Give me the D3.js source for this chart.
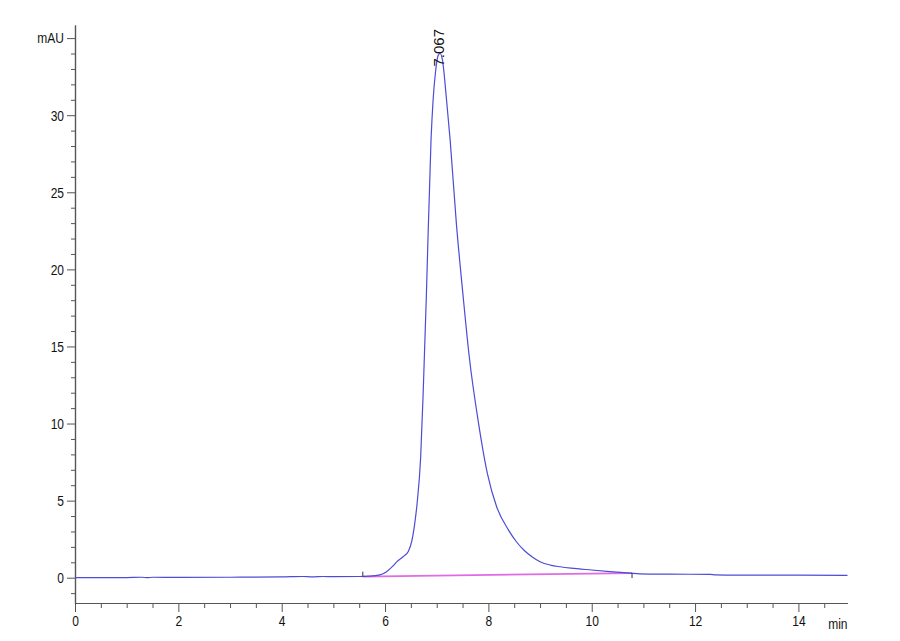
<!DOCTYPE html>
<html>
<head>
<meta charset="utf-8">
<script src="https://cdn.jsdelivr.net/npm/d3@7"></script>
<style>
  html, body { margin: 0; padding: 0; background: #fff; }
  svg { display: block; }
  .tick text, .lbl { font-family: "Liberation Sans Narrow", "Arial Narrow", "Liberation Sans", Arial, sans-serif; font-size: 15px; fill: #111; }
  .peak { font-family: "Liberation Sans", Arial, sans-serif; font-size: 15px; fill: #111; }
</style>
</head>
<body>
<svg id="chart" width="900" height="641"></svg>
<script>
// Retention time (min) and detector signal (mAU)
const time = [0, 0.5, 1, 1.3, 1.4, 1.5, 2, 3, 4, 4.4, 4.6, 4.8, 5, 5.5, 5.7, 5.9, 6.03, 6.15, 6.23, 6.35, 6.45, 6.52, 6.57, 6.62, 6.69, 6.74, 6.80, 6.89, 6.93, 6.98, 7.03, 7.067, 7.11, 7.19, 7.26, 7.38, 7.51, 7.63, 7.81, 7.98, 8.16, 8.39, 8.55, 8.7, 8.85, 9.0, 9.2, 9.39, 9.6, 10.0, 10.35, 10.74, 10.93, 11.5, 12.29, 12.4, 13, 14, 14.95];
const signal = [0.00, 0.00, 0.01, 0.03, 0.00, 0.03, 0.02, 0.03, 0.05, 0.08, 0.05, 0.08, 0.07, 0.08, 0.10, 0.18, 0.39, 0.75, 1.04, 1.36, 1.7, 2.4, 3.4, 4.8, 7.85, 12.17, 18.3, 28.4, 30.97, 32.9, 33.9, 34.0, 33.6, 31.0, 28.4, 23.0, 18.3, 14.33, 10.01, 6.77, 4.60, 3.09, 2.3, 1.75, 1.35, 1.04, 0.82, 0.71, 0.62, 0.5, 0.4, 0.3, 0.25, 0.23, 0.22, 0.18, 0.17, 0.17, 0.15];
// Integration baseline (start, end)
const baseTime = [5.57, 10.78];
const baseSignal = [0.07, 0.30];
// Peak annotation
const peakTime = 7.067;
const peakSignal = 34.0;
const peakLabel = "7.067";
// Axis ticks
const xMajor = [0, 2, 4, 6, 8, 10, 12, 14];
const yMajor = [0, 5, 10, 15, 20, 25, 30, 35];
const yTickLabels = ["0", "5", "10", "15", "20", "25", "30", "mAU"];
const xUnit = "min";

const svg = d3.select("#chart");
const x = d3.scaleLinear().domain([0, 14.95]).range([75, 847.5]);
const y = d3.scaleLinear().domain([-1.64, 35.85]).range([603, 25]);

const axisColor = "#555";

// minor ticks
const xMinor = d3.range(0, 14.95, 0.5).filter(v => !xMajor.includes(v));
const yMinor = d3.range(-1, 35.5, 1).filter(v => !yMajor.includes(v));

const gx = svg.append("g").attr("transform", `translate(0,${y.range()[0]})`);
gx.call(d3.axisBottom(x).tickValues(xMinor).tickSize(5).tickFormat("").tickSizeOuter(0));
const gx2 = svg.append("g").attr("transform", `translate(0,${y.range()[0]})`);
gx2.call(d3.axisBottom(x).tickValues(xMajor).tickSize(9).tickPadding(3).tickFormat(d3.format("d")).tickSizeOuter(0));

const gy = svg.append("g").attr("transform", `translate(${x.range()[0]},0)`);
gy.call(d3.axisLeft(y).tickValues(yMinor).tickSize(4).tickFormat("").tickSizeOuter(0));
const gy2 = svg.append("g").attr("transform", `translate(${x.range()[0]},0)`);
gy2.call(d3.axisLeft(y).tickValues(yMajor).tickSize(8).tickPadding(3)
  .tickFormat((d, i) => yTickLabels[i]).tickSizeOuter(0));

svg.selectAll(".tick line").attr("stroke", axisColor);
svg.selectAll(".domain").attr("stroke", axisColor).attr("stroke-width", 1.2);
svg.selectAll(".tick text").attr("font-size", null).attr("font-family", null);

// unit label at right end of x-axis
svg.append("text").attr("class", "lbl")
  .attr("x", x(14.95)).attr("y", y.range()[0] + 26)
  .attr("text-anchor", "end").text(xUnit);

// condense labels to mimic a narrow face
svg.selectAll(".tick text, .lbl").each(function () {
  const len = this.getComputedTextLength();
  if (len > 0) d3.select(this).attr("textLength", len * 0.8).attr("lengthAdjust", "spacingAndGlyphs");
});

// signal trace
const data = time.map((t, i) => [t, signal[i]]);
const line = d3.line().x(d => x(d[0])).y(d => y(d[1])).curve(d3.curveMonotoneX);

// baseline
svg.append("line")
  .attr("x1", x(baseTime[0])).attr("y1", y(baseSignal[0]))
  .attr("x2", x(baseTime[1])).attr("y2", y(baseSignal[1]))
  .attr("stroke", "#e16ae6").attr("stroke-width", 1.8);

svg.append("path").datum(data)
  .attr("d", line).attr("fill", "none")
  .attr("stroke", "#4c4cd6").attr("stroke-width", 1.2);

// baseline start/end markers
svg.append("line").attr("x1", x(baseTime[0])).attr("x2", x(baseTime[0]))
  .attr("y1", y(baseSignal[0]) - 5).attr("y2", y(baseSignal[0]))
  .attr("stroke", "#333").attr("stroke-width", 1);
svg.append("line").attr("x1", x(baseTime[1])).attr("x2", x(baseTime[1]))
  .attr("y1", y(baseSignal[1])).attr("y2", y(baseSignal[1]) + 5)
  .attr("stroke", "#333").attr("stroke-width", 1);

// peak label
const px = x(peakTime) - 1, py = y(peakSignal) + 13;
svg.append("text").attr("class", "peak")
  .attr("transform", `translate(${px + 5},${py}) rotate(-90)`)
  .attr("text-anchor", "start")
  .text(peakLabel);
</script>
</body>
</html>
